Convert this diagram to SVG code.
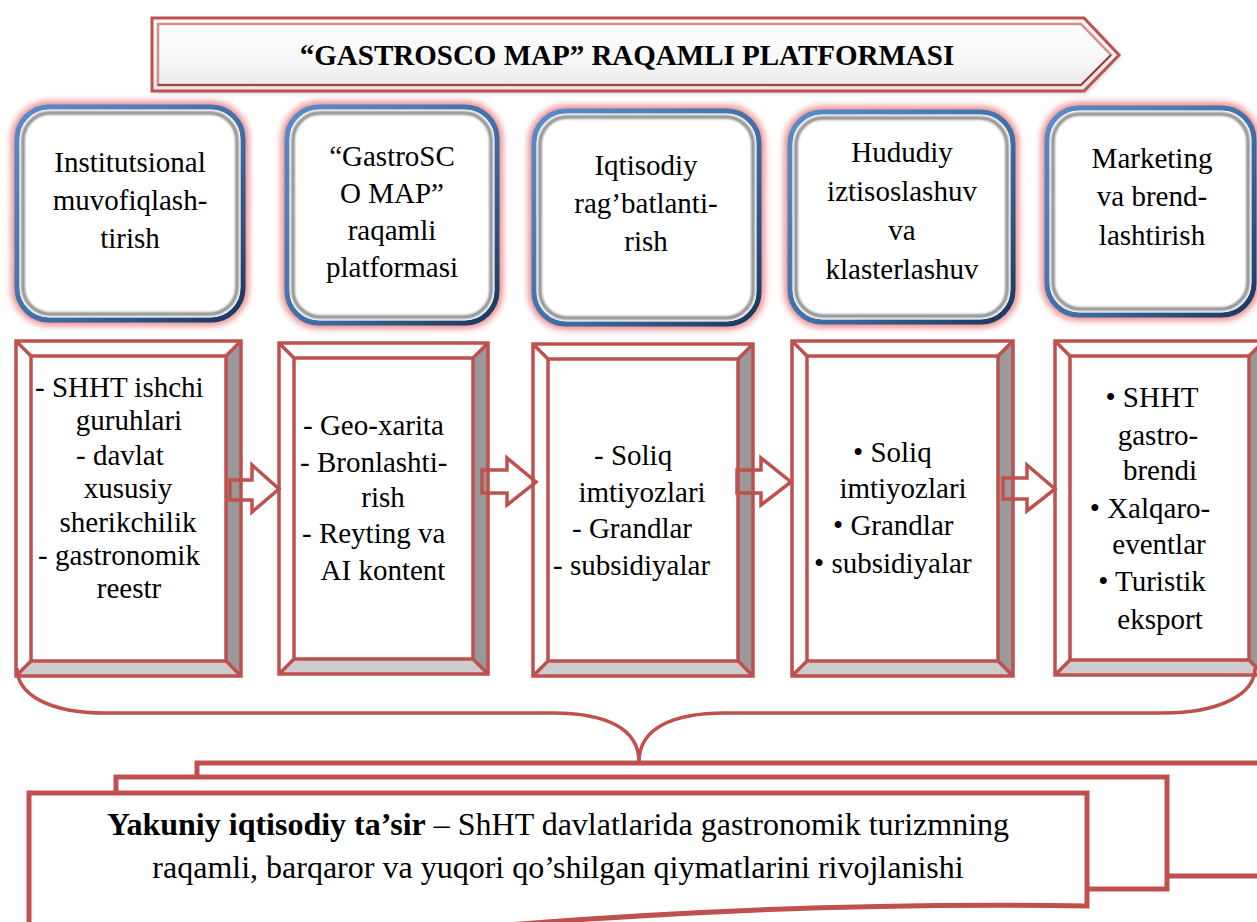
<svg xmlns="http://www.w3.org/2000/svg" width="1257" height="922" viewBox="0 0 1257 922">
<style>
.t{font-family:'Liberation Serif',serif;font-size:29px;fill:#000;text-anchor:middle}
.ts{text-anchor:start}
.ttl{font-family:'Liberation Serif',serif;font-size:29px;font-weight:bold;fill:#000;text-anchor:middle}
.bt{font-family:'Liberation Serif',serif;font-size:32px;fill:#000;text-anchor:middle}
.red{fill:none;stroke:#C0504D;stroke-width:3.5;stroke-linejoin:miter}
.bw{fill:#fff}
.bd{fill:#999}
.bl{fill:#ccc}
.glow{fill:none;stroke:#ee8e8e;stroke-width:12;filter:url(#blur3)}
.blue{fill:#fff;stroke:url(#blueG);stroke-width:5}
.hi{fill:none;stroke:#fff;stroke-width:1.5}
.sh{fill:none;stroke:#8a8a8a;stroke-width:3.5;filter:url(#blur1)}
.arr{fill:none;stroke:#C0504D;stroke-width:3.5;stroke-linejoin:miter}
.doc{fill:#fff;stroke:#C0504D;stroke-width:5}
</style>
<defs>
<filter id="blur3" x="-20%" y="-20%" width="140%" height="140%"><feGaussianBlur stdDeviation="3"/></filter>
<filter id="blur1" x="-10%" y="-10%" width="120%" height="120%"><feGaussianBlur stdDeviation="1.3"/></filter>
<filter id="blur2" x="-10%" y="-30%" width="120%" height="160%"><feGaussianBlur stdDeviation="2"/></filter>
<linearGradient id="blueG" x1="0" y1="0" x2="1" y2="1">
<stop offset="0" stop-color="#5b8ccb"/>
<stop offset="0.55" stop-color="#3f6fa8"/>
<stop offset="1" stop-color="#17375e"/>
</linearGradient>
<linearGradient id="banG" x1="0" y1="0" x2="0" y2="1">
<stop offset="0" stop-color="#ffffff"/>
<stop offset="0.6" stop-color="#f7f7f7"/>
<stop offset="1" stop-color="#e6e6e6"/>
</linearGradient>
</defs>
<rect width="1257" height="922" fill="#fff"/>

<g id="title">
<polygon points="154,20 1086,20 1121,56 1086,93 154,93" fill="#c8c8c8" filter="url(#blur2)"/>
<polygon points="152,18 1084,18 1119,55 1084,91 152,91" fill="url(#banG)" stroke="#C0504D" stroke-width="3"/>
<polygon points="158,24 1081,24 1111,55 1081,85 158,85" fill="none" stroke="#d98c8a" stroke-width="2.5"/>
<polyline points="158,85 1081,85 1111,55" fill="none" stroke="#8c2f2c" stroke-width="1.5"/>
<text class="ttl" x="627" y="65">“GASTROSCO MAP” RAQAMLI PLATFORMASI</text>
</g>

<g id="box1">
<rect class="glow" x="17" y="107" width="226" height="213" rx="32"/>
<rect class="blue" x="17" y="107" width="226" height="213" rx="32"/>
<rect class="hi" x="20.5" y="110.5" width="219" height="206" rx="29"/>
<rect class="sh" x="23" y="113" width="214" height="201" rx="27"/>
<text class="t" x="130" y="172">Institutsional</text>
<text class="t" x="130" y="210">muvofiqlash-</text>
<text class="t" x="130" y="248">tirish</text>
</g>
<g id="box2">
<rect class="glow" x="287" y="107" width="210" height="216" rx="32"/>
<rect class="blue" x="287" y="107" width="210" height="216" rx="32"/>
<rect class="hi" x="290.5" y="110.5" width="203" height="209" rx="29"/>
<rect class="sh" x="293" y="113" width="198" height="204" rx="27"/>
<text class="t" x="392" y="166">“GastroSC</text>
<text class="t" x="392" y="203">O MAP”</text>
<text class="t" x="392" y="240">raqamli</text>
<text class="t" x="392" y="277">platformasi</text>
</g>
<g id="box3">
<rect class="glow" x="534" y="111" width="225" height="213" rx="32"/>
<rect class="blue" x="534" y="111" width="225" height="213" rx="32"/>
<rect class="hi" x="537.5" y="114.5" width="218" height="206" rx="29"/>
<rect class="sh" x="540" y="117" width="213" height="201" rx="27"/>
<text class="t" x="646" y="175">Iqtisodiy</text>
<text class="t" x="646" y="213">rag’batlanti-</text>
<text class="t" x="646" y="251">rish</text>
</g>
<g id="box4">
<rect class="glow" x="790" y="112" width="223" height="210" rx="32"/>
<rect class="blue" x="790" y="112" width="223" height="210" rx="32"/>
<rect class="hi" x="793.5" y="115.5" width="216" height="203" rx="29"/>
<rect class="sh" x="796" y="118" width="211" height="198" rx="27"/>
<text class="t" x="902" y="162">Hududiy</text>
<text class="t" x="902" y="201">iztisoslashuv</text>
<text class="t" x="902" y="240">va</text>
<text class="t" x="902" y="279">klasterlashuv</text>
</g>
<g id="box5">
<rect class="glow" x="1047" y="108" width="207" height="207" rx="32"/>
<rect class="blue" x="1047" y="108" width="207" height="207" rx="32"/>
<rect class="hi" x="1050.5" y="111.5" width="200" height="200" rx="29"/>
<rect class="sh" x="1053" y="114" width="195" height="195" rx="27"/>
<text class="t" x="1152" y="168">Marketing</text>
<text class="t" x="1152" y="206">va brend-</text>
<text class="t" x="1152" y="245">lashtirish</text>
</g>

<g id="frame1">
<polygon class="bw" points="16,341 241,341 226,356 31,356"/>
<polygon class="bw" points="16,341 31,356 31,661 16,676"/>
<polygon class="bd" points="241,341 241,676 226,661 226,356"/>
<polygon class="bl" points="16,676 241,676 226,661 31,661"/>
<rect x="31" y="356" width="195" height="305" fill="#fff"/>
<path class="red" d="M16,341H241V676H16Z M31,356H226V661H31Z M16,341L31,356 M241,341L226,356 M241,676L226,661 M16,676L31,661"/>
<text class="t ts" x="35" y="397">- SHHT ishchi</text>
<text class="t" x="129" y="430">guruhlari</text>
<text class="t ts" x="76" y="465">- davlat</text>
<text class="t" x="128" y="498">xususiy</text>
<text class="t" x="128" y="532">sherikchilik</text>
<text class="t ts" x="38" y="565">- gastronomik</text>
<text class="t" x="129" y="598">reestr</text>
</g>
<g id="frame2">
<polygon class="bw" points="279,343 488,343 473,358 294,358"/>
<polygon class="bw" points="279,343 294,358 294,659 279,674"/>
<polygon class="bd" points="488,343 488,674 473,659 473,358"/>
<polygon class="bl" points="279,674 488,674 473,659 294,659"/>
<rect x="294" y="358" width="179" height="301" fill="#fff"/>
<path class="red" d="M279,343H488V674H279Z M294,358H473V659H294Z M279,343L294,358 M488,343L473,358 M488,674L473,659 M279,674L294,659"/>
<text class="t ts" x="303" y="435">- Geo-xarita</text>
<text class="t ts" x="300" y="472">- Bronlashti-</text>
<text class="t" x="383" y="507">rish</text>
<text class="t ts" x="302" y="543">- Reyting va</text>
<text class="t" x="383" y="580">AI kontent</text>
</g>
<g id="frame3">
<polygon class="bw" points="533,344 753,344 738,359 548,359"/>
<polygon class="bw" points="533,344 548,359 548,661 533,676"/>
<polygon class="bd" points="753,344 753,676 738,661 738,359"/>
<polygon class="bl" points="533,676 753,676 738,661 548,661"/>
<rect x="548" y="359" width="190" height="302" fill="#fff"/>
<path class="red" d="M533,344H753V676H533Z M548,359H738V661H548Z M533,344L548,359 M753,344L738,359 M753,676L738,661 M533,676L548,661"/>
<text class="t ts" x="594" y="465">-  Soliq</text>
<text class="t" x="642" y="502">imtiyozlari</text>
<text class="t ts" x="572" y="538">-  Grandlar</text>
<text class="t ts" x="553" y="575">-  subsidiyalar</text>
</g>
<g id="frame4">
<polygon class="bw" points="792,341 1013,341 998,356 807,356"/>
<polygon class="bw" points="792,341 807,356 807,661 792,676"/>
<polygon class="bd" points="1013,341 1013,676 998,661 998,356"/>
<polygon class="bl" points="792,676 1013,676 998,661 807,661"/>
<rect x="807" y="356" width="191" height="305" fill="#fff"/>
<path class="red" d="M792,341H1013V676H792Z M807,356H998V661H807Z M792,341L807,356 M1013,341L998,356 M1013,676L998,661 M792,676L807,661"/>
<text class="t ts" x="853" y="462">• Soliq</text>
<text class="t" x="903" y="498">imtiyozlari</text>
<text class="t ts" x="833" y="535">• Grandlar</text>
<text class="t ts" x="814" y="573">• subsidiyalar</text>
</g>
<g id="frame5">
<polygon class="bw" points="1055,341 1264,341 1249,356 1070,356"/>
<polygon class="bw" points="1055,341 1070,356 1070,660 1055,675"/>
<polygon class="bd" points="1264,341 1264,675 1249,660 1249,356"/>
<polygon class="bl" points="1055,675 1264,675 1249,660 1070,660"/>
<rect x="1070" y="356" width="179" height="304" fill="#fff"/>
<path class="red" d="M1055,341H1264V675H1055Z M1070,356H1249V660H1070Z M1055,341L1070,356 M1264,341L1249,356 M1264,675L1249,660 M1055,675L1070,660"/>
<text class="t" x="1152" y="407">• SHHT</text>
<text class="t" x="1158" y="445">gastro-</text>
<text class="t" x="1160" y="480">brendi</text>
<text class="t" x="1150" y="518">• Xalqaro-</text>
<text class="t" x="1159" y="554">eventlar</text>
<text class="t" x="1152" y="591">• Turistik</text>
<text class="t" x="1160" y="629">eksport</text>
</g>

<g id="connectors">
<polygon class="arr" points="230,480 252,480 252,465 279,489 252,512 252,500 230,500"/>
<polygon class="arr" points="482,470 507,470 507,458 536,482 507,505 507,493 482,493"/>
<polygon class="arr" points="737,470 761,470 761,458 791,482 761,505 761,493 737,493"/>
<polygon class="arr" points="1003,478 1027,478 1027,465 1055,489 1027,511 1027,499 1003,499"/>
<path fill="none" stroke="#C0504D" stroke-width="3.5" d="M17,668 C17,695 50,713 105,713 L553,713 C605,713 639,728 639,762 C639,728 673,713 725,713 L1163,713 C1218,713 1255,695 1255,668"/>
</g>

<g id="result">
<rect class="doc" x="197" y="763" width="1075" height="113"/>
<rect class="doc" x="116" y="777" width="1051" height="112"/>
<path class="doc" d="M29,793 H1087 V906 C900,903 700,910 520,924 L 29,960 Z"/>
<text class="bt" x="558" y="835"><tspan font-weight="bold">Yakuniy iqtisodiy ta’sir</tspan> – ShHT davlatlarida gastronomik turizmning</text>
<text class="bt" x="558" y="878">raqamli, barqaror va yuqori qo’shilgan qiymatlarini rivojlanishi</text>
</g>
</svg>
